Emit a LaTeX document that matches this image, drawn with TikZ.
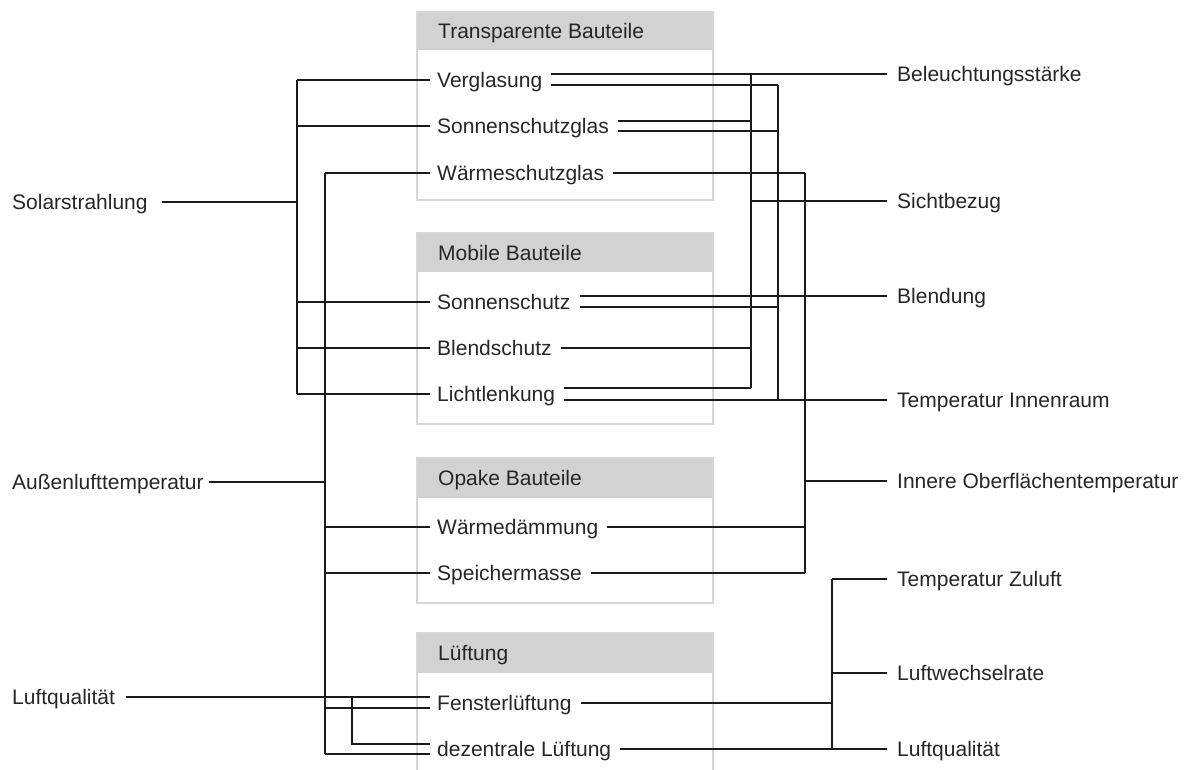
\documentclass[tikz,border=0pt]{standalone}
\usepackage{fontspec}
\setmainfont{Liberation Sans}
\definecolor{txt}{HTML}{262626}
\definecolor{headfill}{HTML}{D1D2D4}
\definecolor{frame}{HTML}{D6D6D6}
\definecolor{ln}{HTML}{1A1A1A}
\newcommand{\dgfont}{\fontsize{21}{25}\selectfont}
\tikzset{
  txtbase/.style={font=\dgfont, text=txt, inner ysep=0pt, text height=15pt, text depth=0pt},
  item/.style={txtbase, anchor=west, inner xsep=7pt},
  rlabel/.style={txtbase, anchor=west, inner xsep=10pt},
  llabel/.style={txtbase, anchor=west, inner xsep=0pt},
  head/.style={txtbase, anchor=west, inner xsep=0pt},
  boxframe/.style={draw=frame, line width=2pt},
  headbar/.style={fill=headfill},
  conn/.style={draw=ln, line width=1.05pt}
}
\begin{document}
\begin{tikzpicture}[x=1pt,y=-1pt]
\useasboundingbox (0,0) rectangle (1201,769);

% ---- boxes ----
\fill[headbar] (417,12) rectangle (713,50);
\draw[boxframe] (417,12) rectangle (713,200);
\fill[headbar] (417,233) rectangle (713,272);
\draw[boxframe] (417,233) rectangle (713,424);
\fill[headbar] (417,458) rectangle (713,498);
\draw[boxframe] (417,458) rectangle (713,603);
\fill[headbar] (417,633) rectangle (713,673);
\draw[boxframe] (417,780) -- (417,633) -- (713,633) -- (713,780);

% ---- headers ----
\node[head] (h1) at (438,31) {Transparente Bauteile};
\node[head] (h2) at (438,252.5) {Mobile Bauteile};
\node[head] (h3) at (438,478) {Opake Bauteile};
\node[head] (h4) at (438,653) {Lüftung};

% ---- items ----
\node[item] (verg) at (430,80) {Verglasung};
\node[item] (sg) at (430,126) {Sonnenschutzglas};
\node[item] (wg) at (430,173) {Wärmeschutzglas};
\node[item] (ss) at (430,302) {Sonnenschutz};
\node[item] (bs) at (430,348) {Blendschutz};
\node[item] (ll) at (430,394) {Lichtlenkung};
\node[item] (wd) at (430,527) {Wärmedämmung};
\node[item] (sm) at (430,573) {Speichermasse};
\node[item] (fl) at (430,703) {Fensterlüftung};
\node[item] (dz) at (430,749) {dezentrale Lüftung};

% ---- left labels ----
\node[llabel] (sol) at (12,202) {Solarstrahlung};
\node[llabel] (al) at (12,482) {Außenlufttemperatur};
\node[llabel] (lql) at (12,697) {Luftqualität};

% ---- right labels ----
\node[rlabel] (bel) at (887,74) {Beleuchtungsstärke};
\node[rlabel] (sb) at (887,201) {Sichtbezug};
\node[rlabel] (bld) at (887,296) {Blendung};
\node[rlabel] (ti) at (887,400) {Temperatur Innenraum};
\node[rlabel] (io) at (887,481) {Innere Oberflächentemperatur};
\node[rlabel] (tz) at (887,579) {Temperatur Zuluft};
\node[rlabel] (lw) at (887,673) {Luftwechselrate};
\node[rlabel] (lqr) at (887,749) {Luftqualität};

% ---- bus positions ----
\coordinate (busA) at (751,0);
\coordinate (busB) at (778,0);
\coordinate (busC) at (805,0);
\coordinate (busD) at (832,0);
\coordinate (busL1) at (297,0);
\coordinate (busL2) at (325,0);
\coordinate (busL3) at (352,0);

% ---- line ends on items (right) ----
\coordinate (vergT) at ([xshift=2pt,yshift=6pt]verg.east);
\coordinate (vergB) at ([xshift=2pt,yshift=-5pt]verg.east);
\coordinate (sgT) at ([xshift=2pt,yshift=5pt]sg.east);
\coordinate (sgB) at ([xshift=2pt,yshift=-5pt]sg.east);
\coordinate (wgR) at ([xshift=2pt]wg.east);
\coordinate (ssT) at ([xshift=2pt,yshift=6pt]ss.east);
\coordinate (ssB) at ([xshift=2pt,yshift=-5pt]ss.east);
\coordinate (bsR) at ([xshift=2pt]bs.east);
\coordinate (llT) at ([xshift=2pt,yshift=6pt]ll.east);
\coordinate (llB) at ([xshift=2pt,yshift=-6pt]ll.east);
\coordinate (wdR) at ([xshift=2pt]wd.east);
\coordinate (smR) at ([xshift=2pt]sm.east);
\coordinate (flR) at ([xshift=2pt]fl.east);
\coordinate (dzR) at ([xshift=2pt]dz.east);
% left
\coordinate (flT) at ([yshift=6pt]fl.west);
\coordinate (flB) at ([yshift=-5pt]fl.west);
\coordinate (dzT) at ([yshift=5pt]dz.west);
\coordinate (dzB) at ([yshift=-5pt]dz.west);

% ---- right connectors ----
\draw[conn] (vergT) -- (bel.west);
\draw[conn] (vergB) -- (vergB -| busB);
\draw[conn] (sgT) -- (sgT -| busA);
\draw[conn] (sgB) -- (sgB -| busB);
\draw[conn] (wgR) -- (wgR -| busC);
\draw[conn] (sb.west) -- (sb.west -| busA);
\draw[conn] (ssT) -- (bld.west);
\draw[conn] (ssB) -- (ssB -| busB);
\draw[conn] (bsR) -- (bsR -| busA);
\draw[conn] (llT) -- (llT -| busA);
\draw[conn] (llB) -- (ti.west);
\draw[conn] (io.west) -- (io.west -| busC);
\draw[conn] (wdR) -- (wdR -| busC);
\draw[conn] (smR) -- (smR -| busC);
\draw[conn] (vergT -| busA) -- (llT -| busA);
\draw[conn] (vergB -| busB) -- (llB -| busB);
\draw[conn] (wgR -| busC) -- (smR -| busC);
% ventilation outputs
\draw[conn] (flR) -- (flR -| busD);
\draw[conn] (dzR) -- (lqr.west);
\draw[conn] (tz.west) -- (tz.west -| busD);
\draw[conn] (lw.west) -- (lw.west -| busD);
\draw[conn] (tz.west -| busD) -- (lqr.west -| busD);

% ---- left connectors ----
\draw[conn] ([xshift=14pt]sol.east) -- (sol.east -| busL1);
\draw[conn] (verg.west -| busL1) -- (ll.west -| busL1);
\draw[conn] (verg.west -| busL1) -- (verg.west);
\draw[conn] (sg.west -| busL1) -- (sg.west);
\draw[conn] (ss.west -| busL1) -- (ss.west);
\draw[conn] (bs.west -| busL1) -- (bs.west);
\draw[conn] (ll.west -| busL1) -- (ll.west);

\draw[conn] ([xshift=5pt]al.east) -- (al.east -| busL2);
\draw[conn] (wg.west -| busL2) -- (dzB -| busL2);
\draw[conn] (wg.west -| busL2) -- (wg.west);
\draw[conn] (wd.west -| busL2) -- (wd.west);
\draw[conn] (sm.west -| busL2) -- (sm.west);
\draw[conn] (flB -| busL2) -- (flB);
\draw[conn] (dzB -| busL2) -- (dzB);

\draw[conn] ([xshift=11pt]lql.east) -- (flT);
\draw[conn] (flT -| busL3) -- (dzT -| busL3) -- (dzT);
\end{tikzpicture}
\end{document}
